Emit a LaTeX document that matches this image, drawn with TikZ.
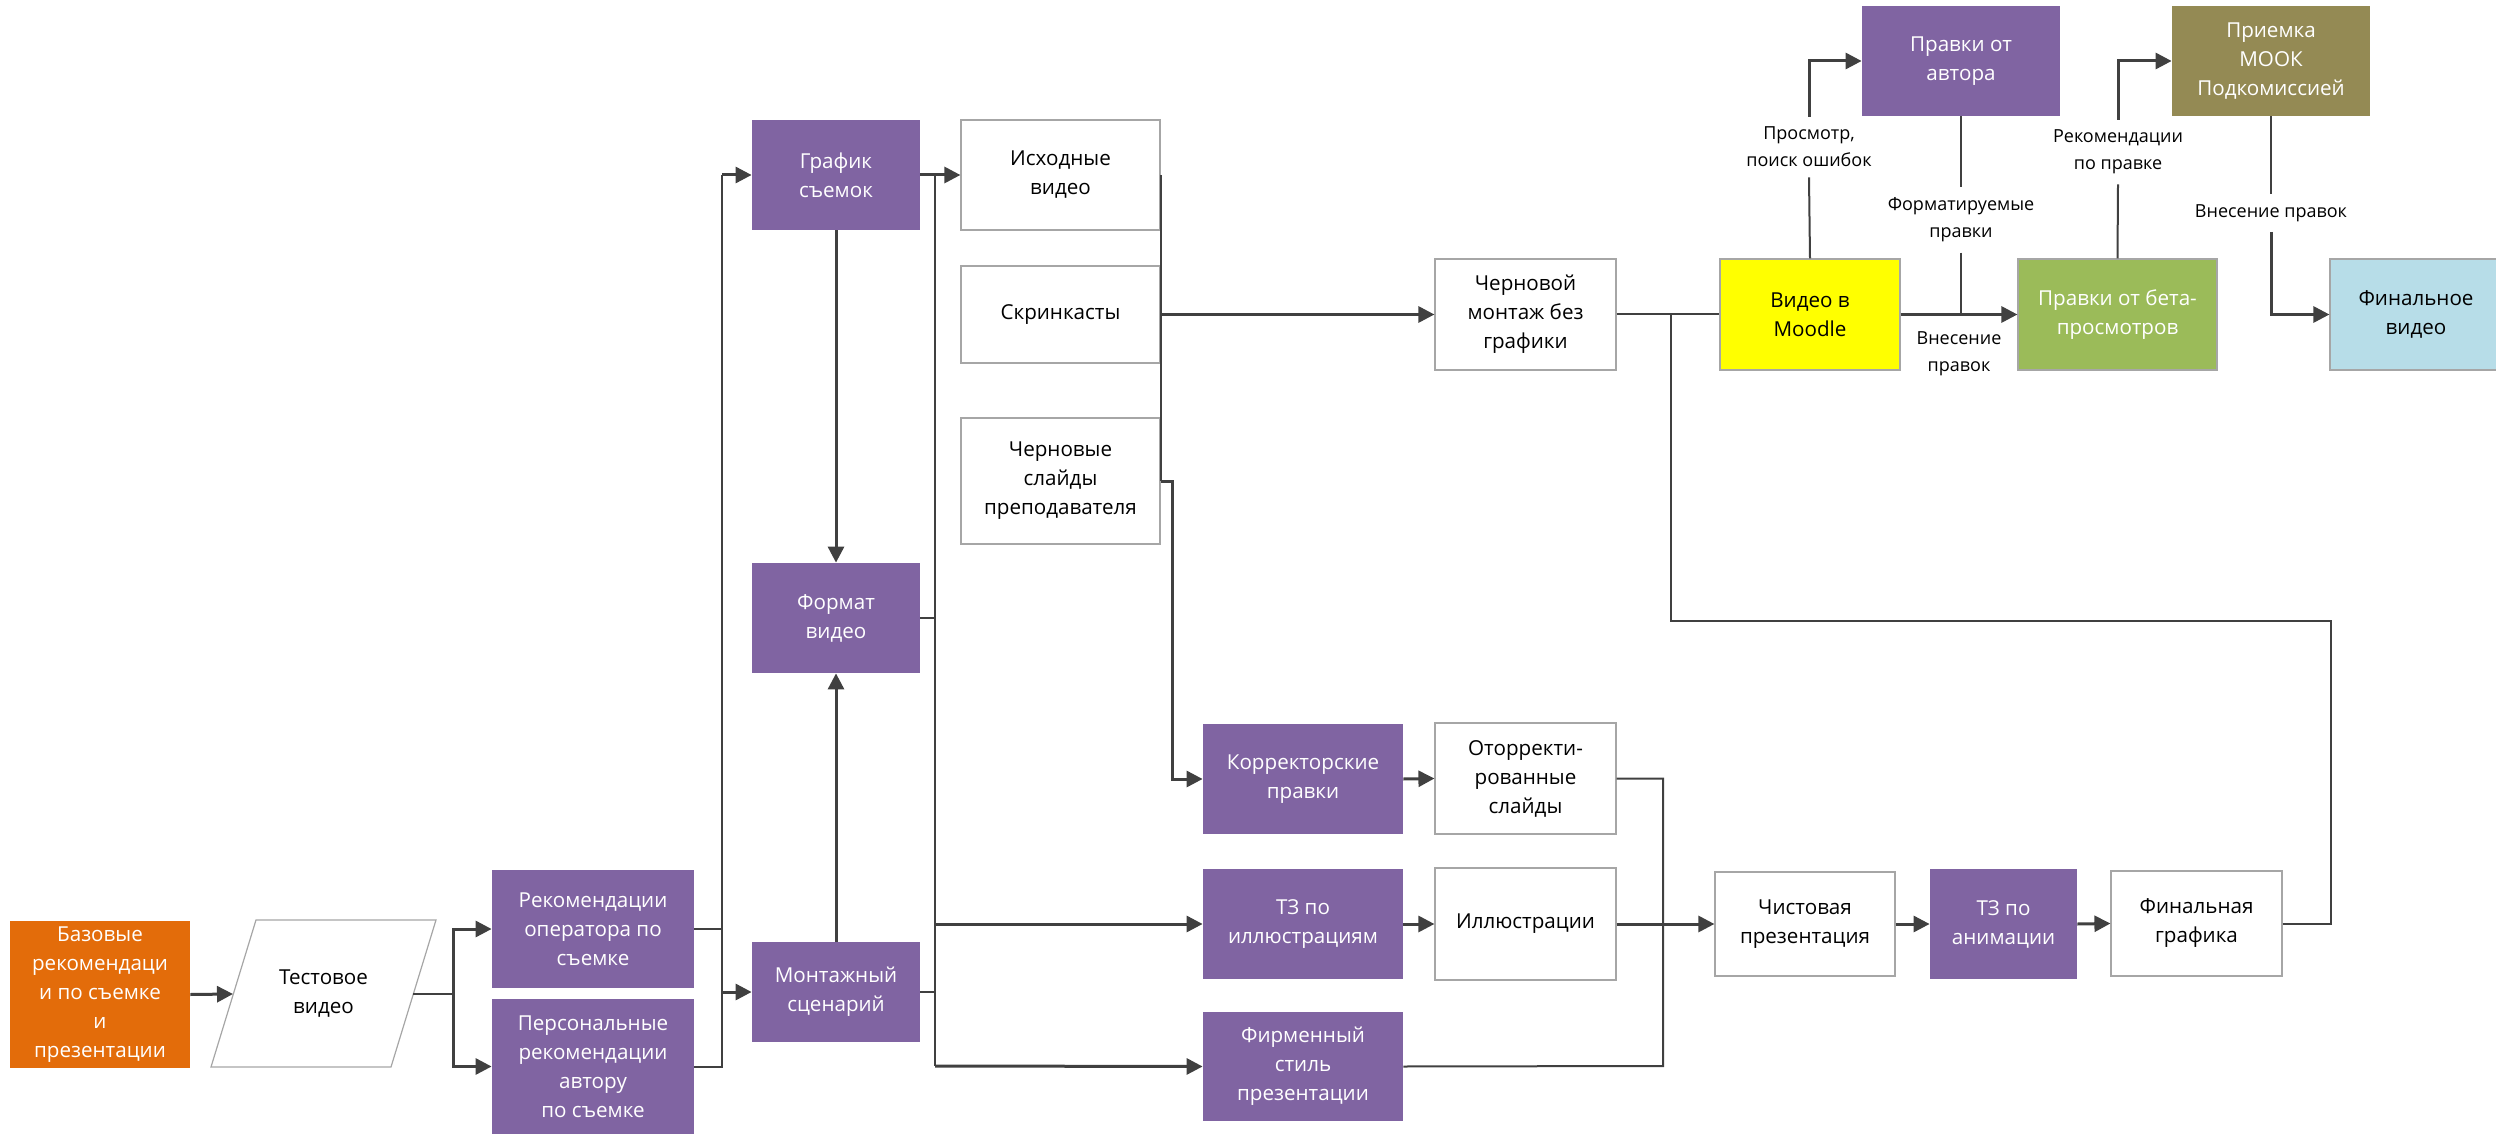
\documentclass[tikz,border=0pt]{standalone}
\usepackage{fontspec}
\setmainfont{Open Sans}
\usetikzlibrary{fit,arrows.meta}
\definecolor{cpur}{HTML}{8064A2}
\definecolor{corg}{HTML}{E36C0A}
\definecolor{cyel}{HTML}{FFFF00}
\definecolor{cgrn}{HTML}{9BBB59}
\definecolor{cblu}{HTML}{B7DDE8}
\definecolor{coli}{HTML}{948A54}
\definecolor{cln}{HTML}{404040}
\definecolor{cbrd}{HTML}{A6A6A6}
\newcommand\mybox[8]{\node[inner sep=0pt, fit={(#2,#4)(#3,#5)}, #6] (#1) {};
  \node[bxtxt, text=#7, inner sep=0pt] (#1-t) at (#1.center) {#8};}
\tikzset{
  bxtxt/.style={align=center, font=\fontsize{10.3}{14.5}\selectfont},
  wbox/.style={draw=cbrd, line width=0.6pt, fill=white},
  pbox/.style={fill=cpur},
  obox/.style={fill=corg},
  ybox/.style={draw=cbrd, line width=0.6pt, fill=cyel},
  gbox/.style={draw=cbrd, line width=0.6pt, fill=cgrn},
  bbox/.style={draw=cbrd, line width=0.6pt, fill=cblu},
  olbox/.style={fill=coli},
  lbl/.style={align=center, font=\fontsize{9}{13.5}\selectfont, inner xsep=2pt, inner ysep=5pt},
  ln/.style={draw=cln, line width=1pt},
  arr/.style={draw=cln, line width=1.5pt, -{Triangle[length=8pt,width=8pt]}},
}
\begin{document}
\begin{tikzpicture}[x=0.5pt,y=-0.5pt]
\useasboundingbox (0,0) rectangle (2496,1134);
\clip (0,0) rectangle (2496,1134);
% boxes
\mybox{baz}{10}{190}{921}{1068}{obox}{white}{Базовые\\рекомендаци\\и по съемке\\и\\презентации}
\draw[draw=cbrd, line width=0.6pt, fill=white] (256,920) -- (436,920) -- (391,1067) -- (211,1067) -- cycle;
\node[bxtxt] (test) at (323.5,994) {Тестовое\\видео};
\coordinate (tL) at (233,994);
\coordinate (tR) at (413,994);
\mybox{rekop}{492}{694}{870}{988}{pbox}{white}{Рекомендации\\оператора по\\съемке}
\mybox{pers}{492}{694}{999}{1134}{pbox}{white}{Персональные\\рекомендации\\автору\\по съемке}
\mybox{graf}{752}{920}{120}{230}{pbox}{white}{График\\съемок}
\mybox{format}{752}{920}{563}{673}{pbox}{white}{Формат\\видео}
\mybox{mont}{752}{920}{942}{1042}{pbox}{white}{Монтажный\\сценарий}
\mybox{ishod}{961}{1160}{120}{230}{wbox}{black}{Исходные\\видео}
\mybox{skrin}{961}{1160}{266}{363}{wbox}{black}{Скринкасты}
\mybox{chern}{961}{1160}{418}{544}{wbox}{black}{Черновые\\слайды\\преподавателя}
\mybox{korr}{1203}{1403}{724}{834}{pbox}{white}{Корректорские\\правки}
\mybox{tzill}{1203}{1403}{869}{979}{pbox}{white}{ТЗ по\\иллюстрациям}
\mybox{firm}{1203}{1403}{1012}{1121}{pbox}{white}{Фирменный\\стиль\\презентации}
\mybox{otkorr}{1435}{1616}{723}{834}{wbox}{black}{Оторректи-\\рованные\\слайды}
\mybox{ill}{1435}{1616}{868}{980}{wbox}{black}{Иллюстрации}
\mybox{chmont}{1435}{1616}{259}{370}{wbox}{black}{Черновой\\монтаж без\\графики}
\mybox{chist}{1715}{1895}{872}{976}{wbox}{black}{Чистовая\\презентация}
\mybox{tzanim}{1930}{2077}{869}{979}{pbox}{white}{ТЗ по\\анимации}
\mybox{fingr}{2111}{2282}{871}{976}{wbox}{black}{Финальная\\графика}
\mybox{moodle}{1720}{1900}{259}{370}{ybox}{black}{Видео в\\Moodle}
\mybox{pravav}{1862}{2060}{6}{116}{pbox}{white}{Правки от\\автора}
\mybox{priem}{2172}{2370}{6}{116}{olbox}{white}{Приемка\\МООК\\Подкомиссией}
\mybox{beta}{2018}{2217}{259}{370}{gbox}{white}{Правки от бета-\\просмотров}
\mybox{finvid}{2330}{2502}{259}{370}{bbox}{black}{Финальное\\видео}
% labels
\node[lbl] (l1) at (1809,147) {Просмотр,\\поиск ошибок};
\node[lbl] (l2) at (1961,220) {Форматируемые\\правки};
\node[lbl] (l3) at (1959,354) {Внесение\\правок};
\node[lbl] (l4) at (2118,152) {Рекомендации\\по правке};
\node[lbl] (l5) at (2271,213) {Внесение правок};
% coordinates
\coordinate (j1) at (453,994);
\coordinate (b1) at (722,175);
\coordinate (b2) at (935,175);
\coordinate (b2b) at (935,1066);
\coordinate (b3) at (1663,1066);
\coordinate (j2) at (1671,315);
\coordinate (r1) at (2331,621);
% connectors
\draw[arr] (baz.east) -- (tL);
\draw[ln] (tR) -- (j1);
\draw[arr] (j1) |- (rekop.west);
\draw[arr] (j1) |- (pers.west);
\draw[ln] (pers.east) -| (b1);
\draw[ln] (rekop.east) -- (rekop.east -| b1);
\draw[arr] (b1) -- (graf.west);
\draw[arr] (mont.west -| b1) -- (mont.west);
\draw[arr] (graf.south) -- (format.north);
\draw[arr] (mont.north) -- (format.south);
\draw[arr] (graf.east) -- (ishod.west);
\draw[ln] (b2) -- (b2b);
\draw[arr] (b2b) -- (firm.west);
\draw[arr] (tzill.west -| b2) -- (tzill.west);
\draw[ln] (format.east) -- (format.east -| b2);
\draw[ln] (mont.east) -- (mont.east -| b2);
\draw[ln] (ishod.east) -- (chern.east);
\draw[arr] (chern.east) -- ++(12,0) |- (korr.west);
\draw[arr] (skrin.east) -- (chmont.west);
\draw[arr] (korr.east) -- (otkorr.west);
\draw[arr] (tzill.east) -- (ill.west);
\draw[ln] (otkorr.east) -| (b3) -- (firm.east);
\draw[arr] (ill.east) -- (chist.west);
\draw[arr] (chist.east) -- (tzanim.west);
\draw[arr] (tzanim.east) -- (fingr.west);
\draw[ln] (fingr.east) -| (r1) -| (j2);
\draw[ln] (chmont.east) -- (moodle.west);
\draw[arr] (moodle.east) -- (beta.west);
\draw[ln] (moodle.north) -- (l1.south);
\draw[arr] (l1.north) |- (pravav.west);
\draw[ln] (pravav.south) -- (l2.north);
\draw[ln] (l2.south) -- (l2.south |- moodle.east);
\draw[ln] (beta.north) -- (l4.south);
\draw[arr] (l4.north) |- (priem.west);
\draw[ln] (priem.south) -- (l5.north);
\draw[arr] (l5.south) |- (finvid.west);
\end{tikzpicture}
\end{document}
